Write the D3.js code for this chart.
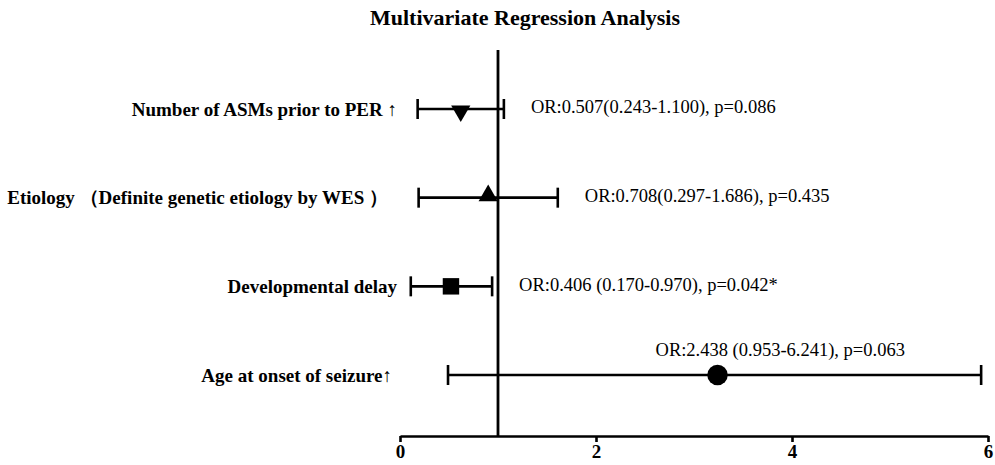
<!DOCTYPE html>
<html>
<head>
<meta charset="utf-8">
<script src="https://cdn.jsdelivr.net/npm/d3@7"></script>
<style>
  body { margin: 0; background: #fff; }
  text { font-family: "Liberation Serif", "Times New Roman", serif; fill: #000; }
</style>
</head>
<body>
<div id="chart"></div>
<script>
// Row labels, top to bottom
var factors = [
  'Number of ASMs prior to PER \u2191',
  'Etiology \uff08Definite genetic etiology by WES \uff09',
  'Developmental delay',
  'Age at onset of seizure\u2191'
];

// Point estimates and interval ends as drawn in the picture
var points = [0.62, 0.90, 0.52, 3.24];
var lowers = [0.18, 0.19, 0.11, 0.49];
var uppers = [1.06, 1.61, 0.94, 5.93];

var markers = ['triangleDown', 'triangle', 'square', 'circle'];

var notes = [
  'OR:0.507(0.243-1.100), p=0.086',
  'OR:0.708(0.297-1.686), p=0.435',
  'OR:0.406 (0.170-0.970), p=0.042*',
  'OR:2.438 (0.953-6.241), p=0.063'
];
var notePlacement = ['right', 'right', 'right', 'above'];

var xTicks = [0, 2, 4, 6];
var refValue = 1;

function createChart() {
  var canvasWidth = 995;
  var canvasHeight = 465;

  var svg = d3.select('#chart')
    .append('svg')
    .attr('width', canvasWidth)
    .attr('height', canvasHeight);

  svg.append('text')
    .attr('x', 525)
    .attr('y', 25)
    .attr('text-anchor', 'middle')
    .style('font-size', '22px')
    .style('font-weight', 'bold')
    .text('Multivariate Regression Analysis');

  return svg;
}

function renderForest(svg) {
  var xScale = d3.scaleLinear().domain([0, 6]).range([400, 988]);
  var yScale = d3.scalePoint().domain(factors).range([109, 375]);
  var axisY = 436;
  var stroke = 2.6;

  // x axis
  var axis = d3.axisBottom(xScale)
    .tickValues(xTicks)
    .tickFormat(d3.format('d'))
    .tickSize(6)
    .tickSizeOuter(0);

  var axisG = svg.append('g')
    .attr('transform', 'translate(0,' + axisY + ')')
    .call(axis);
  axisG.select('.domain').attr('stroke', '#000').attr('stroke-width', stroke);
  axisG.selectAll('.tick line').attr('stroke', '#000').attr('stroke-width', stroke);
  axisG.selectAll('.tick text')
    .attr('y', 9)
    .style('font-family', '"Liberation Serif", serif')
    .style('font-size', '19px')
    .style('font-weight', 'bold');

  // reference line at OR = 1
  svg.append('line')
    .attr('x1', xScale(refValue)).attr('x2', xScale(refValue))
    .attr('y1', 50).attr('y2', axisY)
    .attr('stroke', '#000')
    .attr('stroke-width', 2.8);

  var rows = svg.selectAll('g.row')
    .data(factors)
    .enter()
    .append('g')
    .attr('class', 'row')
    .attr('transform', d => 'translate(0,' + yScale(d) + ')');

  // labels
  rows.append('text')
    .attr('x', function(d, i) { return i === 1 ? 388 : (i === 3 ? 392 : 397); })
    .attr('y', 0)
    .attr('dy', '0.35em')
    .attr('text-anchor', 'end')
    .style('font-size', '19px')
    .style('font-weight', 'bold')
    .text(d => d);

  // whiskers
  rows.append('line')
    .attr('x1', (d, i) => xScale(lowers[i]))
    .attr('x2', (d, i) => xScale(uppers[i]))
    .attr('stroke', '#000')
    .attr('stroke-width', stroke);

  rows.append('line')
    .attr('x1', (d, i) => xScale(lowers[i]))
    .attr('x2', (d, i) => xScale(lowers[i]))
    .attr('y1', -10).attr('y2', 10)
    .attr('stroke', '#000')
    .attr('stroke-width', stroke);

  rows.append('line')
    .attr('x1', (d, i) => xScale(uppers[i]))
    .attr('x2', (d, i) => xScale(uppers[i]))
    .attr('y1', -10).attr('y2', 10)
    .attr('stroke', '#000')
    .attr('stroke-width', stroke);

  // markers
  var symbolFor = {
    triangleDown: d3.symbol().type(d3.symbolTriangle).size(160),
    triangle: d3.symbol().type(d3.symbolTriangle).size(160),
    square: d3.symbol().type(d3.symbolSquare).size(270),
    circle: d3.symbol().type(d3.symbolCircle).size(330)
  };

  rows.append('path')
    .attr('d', (d, i) => symbolFor[markers[i]]())
    .attr('transform', function(d, i) {
      var cx = xScale(points[i]);
      if (markers[i] === 'triangleDown') return 'translate(' + cx + ',2) rotate(180)';
      if (markers[i] === 'triangle') return 'translate(' + cx + ',-2)';
      return 'translate(' + cx + ',0)';
    })
    .attr('fill', '#000');

  // OR annotations
  rows.append('text')
    .attr('x', function(d, i) {
      return notePlacement[i] === 'above' ? xScale(points[i]) - 62 : xScale(uppers[i]) + 27;
    })
    .attr('y', (d, i) => notePlacement[i] === 'above' ? -25 : -2)
    .attr('dy', '0.35em')
    .style('font-size', '18.5px')
    .text((d, i) => notes[i]);
}

function init() {
  var svg = createChart();
  renderForest(svg);
}

window.onload = init;
</script>
</body>
</html>
